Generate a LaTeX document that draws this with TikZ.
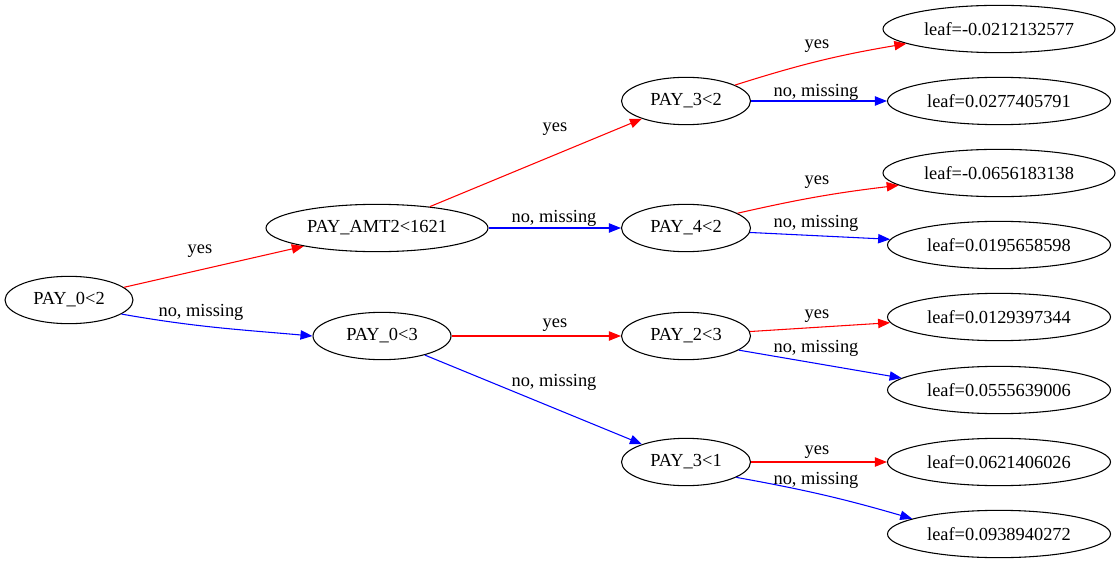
\documentclass[tikz,border=0pt]{standalone}
\usepackage{fontspec}
\setmainfont{Liberation Serif}
\usetikzlibrary{shapes.geometric,arrows.meta}

\begin{document}
\begin{tikzpicture}[x=0.75pt,y=-0.75pt,font=\fontsize{13.8}{16}\selectfont,
    split/.style={draw,ellipse,line width=0.8pt,inner sep=0pt,minimum height=35.5pt,minimum width=#1},
    yesedge/.style={draw=red,line width=0.8pt,-{Triangle[length=9pt,width=7pt]}},
    noedge/.style={draw=blue,line width=0.8pt,-{Triangle[length=9pt,width=7pt]}},
    lbl/.style={inner sep=0pt}]
    \useasboundingbox (0,0) rectangle (1120,563);
    % split nodes
    \node[split=96pt] (n0) at (69,300) {PAY\_0<2};
    \node[split=166.5pt] (n1) at (377,228) {PAY\_AMT2<1621};
    \node[split=103.5pt] (n2) at (382,336) {PAY\_0<3};
    \node[split=96.75pt] (n3) at (686,101) {PAY\_3<2};
    \node[split=96.75pt] (n4) at (686,228) {PAY\_4<2};
    \node[split=96.75pt] (n5) at (686,336) {PAY\_2<3};
    \node[split=96.75pt] (n6) at (686,462) {PAY\_3<1};
    % leaves
    \foreach \i/\y/\w/\v in {1/29/174/-0.0212132577, 2/101/167.25/0.0277405791,
        3/173/174/-0.0656183138, 4/245/167.25/0.0195658598, 5/317/167.25/0.0129397344,
        6/390/167.25/0.0555639006, 7/462/167.25/0.0621406026, 8/534/167.25/0.0938940272}
      \node[split=\w pt] (leaf\i) at (999,\y) {leaf=\v};
    % edges
    \draw[yesedge] (n0.13) -- (n1.194);
    \draw[noedge] (n0.-15) to[out=-10,in=175] (n2.west);
    \draw[yesedge] (n1.22) -- (n3.202);
    \draw[noedge] (n1.east) -- (n4.west);
    \draw[yesedge] (n2.east) -- (n5.west);
    \draw[noedge] (n2.-24) -- (n6.158);
    \draw[yesedge] (n3.18) to[bend left=4] (leaf1.189);
    \draw[noedge] (n3.east) -- (leaf2.west);
    \draw[yesedge] (n4.16) to[bend left=3] (leaf3.187);
    \draw[noedge] (n4.-4) -- (leaf4.177);
    \draw[yesedge] (n5.4) -- (leaf5.183);
    \draw[noedge] (n5.-15) -- (leaf6.173);
    \draw[yesedge] (n6.east) -- (leaf7.west);
    \draw[noedge] (n6.-17) to[bend left=3] (leaf8.170);
    % edge labels
    \node[lbl] (l1) at (200,251) {yes};
    \node[lbl] (l2) at (201,312) {no, missing};
    \node[lbl] (l3) at (555,129) {yes};
    \node[lbl] (l4) at (554,218) {no, missing};
    \node[lbl] (l5) at (555,325) {yes};
    \node[lbl] (l6) at (554,382) {no, missing};
    \node[lbl] (l7) at (817,46) {yes};
    \node[lbl] (l8) at (816,92) {no, missing};
    \node[lbl] (l9) at (817,182) {yes};
    \node[lbl] (l10) at (816,223) {no, missing};
    \node[lbl] (l11) at (817,316) {yes};
    \node[lbl] (l12) at (816,348) {no, missing};
    \node[lbl] (l13) at (817,452) {yes};
    \node[lbl] (l14) at (816,480) {no, missing};
\end{tikzpicture}
\end{document}
